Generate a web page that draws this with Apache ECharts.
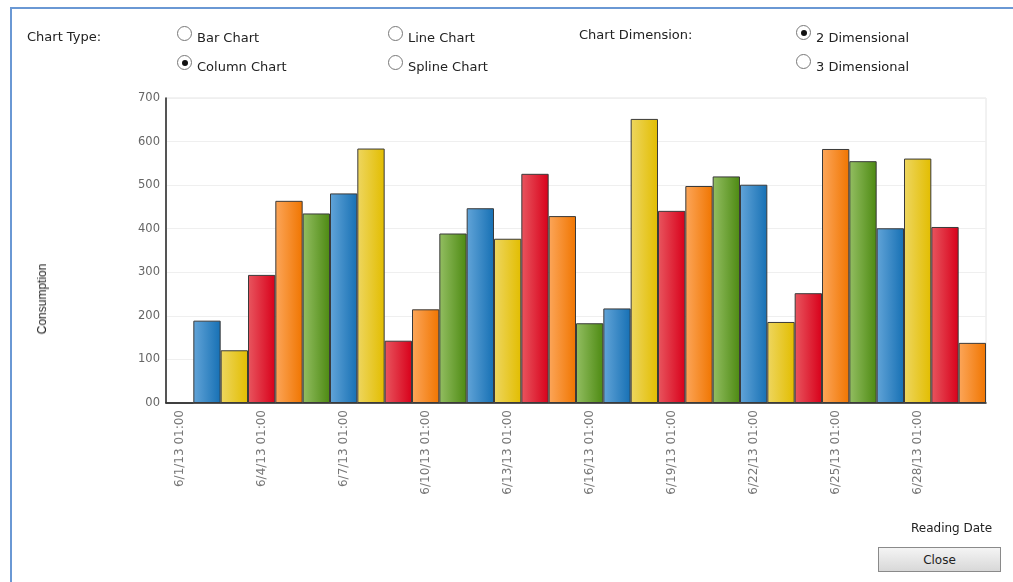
<!DOCTYPE html>
<html>
<head>
<meta charset="utf-8">
<script src="https://cdn.jsdelivr.net/npm/echarts@6/dist/echarts.min.js"></script>
<style>
  html, body { margin: 0; padding: 0; background: #fff; }
  #wrap { position: relative; width: 1013px; height: 582px; overflow: hidden; font-family: "DejaVu Sans", Verdana, sans-serif; }
  #main { position: absolute; left: 0; top: 0; width: 1013px; height: 582px; }
  .frameTop { position: absolute; left: 10px; top: 7px; width: 1003px; height: 2px; background: #6a98d4; }
  .frameLeft { position: absolute; left: 10px; top: 7px; width: 2px; height: 575px; background: #6a98d4; }
  .lbl { position: absolute; font-size: 13px; color: #222; white-space: nowrap; line-height: 15px; }
  .radio { position: absolute; width: 13px; height: 13px; border: 1px solid #777; border-radius: 50%; background: #fff; }
  .radio.on::after { content: ""; position: absolute; left: 3.5px; top: 3.5px; width: 6px; height: 6px; border-radius: 50%; background: #111; }
  #yName { position: absolute; left: 42px; top: 299px; font-family: "Liberation Sans", Arial, sans-serif; font-size: 12px; color: #222; white-space: nowrap; transform: translate(-50%, -50%) rotate(-90deg); }
  #closeBtn { position: absolute; left: 878px; top: 547px; width: 123px; height: 25px; border: 1px solid #8a8a8a; background: linear-gradient(#f4f4f4, #d8d8d8); font-size: 12px; color: #222; text-align: center; line-height: 24px; box-sizing: border-box; }
</style>
</head>
<body>
<div id="wrap">
  <div id="main"></div>
  <div class="frameTop"></div>
  <div class="frameLeft"></div>

  <div class="lbl" style="left:27px;top:29px;">Chart Type:</div>
  <div class="radio" style="left:177px;top:26px;"></div>
  <div class="lbl" style="left:197px;top:30px;">Bar Chart</div>
  <div class="radio on" style="left:177px;top:55px;"></div>
  <div class="lbl" style="left:197px;top:59px;">Column Chart</div>
  <div class="radio" style="left:388px;top:26px;"></div>
  <div class="lbl" style="left:408px;top:30px;">Line Chart</div>
  <div class="radio" style="left:388px;top:55px;"></div>
  <div class="lbl" style="left:408px;top:59px;">Spline Chart</div>

  <div class="lbl" style="left:579px;top:27px;">Chart Dimension:</div>
  <div class="radio on" style="left:796px;top:25px;"></div>
  <div class="lbl" style="left:816px;top:30px;">2 Dimensional</div>
  <div class="radio" style="left:796px;top:54px;"></div>
  <div class="lbl" style="left:816px;top:59px;">3 Dimensional</div>

  <div id="yName">Consumption</div>
  <div class="lbl" style="left:911px;top:521px;font-size:12px;">Reading Date</div>
  <div id="closeBtn">Close</div>
</div>
<script>
  // dates 6/1/13 .. 6/30/13, one reading per day
  var dates = [];
  for (var d = 1; d <= 30; d++) {
    dates.push('6/' + d + '/13 01:00');
  }

  // consumption per day
  var consumption = [0, 189, 121, 294, 464, 435, 481, 584, 143, 215,
                     389, 447, 377, 526, 429, 183, 217, 652, 441, 498,
                     520, 501, 186, 252, 583, 555, 401, 561, 404, 138];

  var yTicks = [0, 100, 200, 300, 400, 500, 600, 700];

  // palette cycles green, blue, yellow, red, orange (light -> dark)
  var palette = [
    ['#93be62', '#4d8a12'],
    ['#62a4d8', '#1670b4'],
    ['#eed660', '#e2bd00'],
    ['#e8565f', '#d8001a'],
    ['#fca65a', '#f07500']
  ];

  var chart = echarts.init(document.getElementById('main'));

  var barData = consumption.map(function (v, i) {
    var c = palette[i % palette.length];
    return {
      value: v,
      itemStyle: {
        color: new echarts.graphic.LinearGradient(0, 0, 1, 0, [
          { offset: 0, color: c[0] },
          { offset: 1, color: c[1] }
        ])
      }
    };
  });

  var option = {
    animation: false,
    grid: {
      left: 166,
      right: 27,
      top: 98,
      bottom: 179,
      show: true,
      borderColor: '#e4e4e4',
      borderWidth: 1
    },
    xAxis: {
      type: 'category',
      data: dates,
      axisLine: { lineStyle: { color: '#222', width: 1.5 } },
      axisTick: { show: false },
      axisLabel: {
        interval: 2,
        rotate: 90,
        margin: 7,
        color: '#777',
        fontSize: 12,
        fontFamily: 'DejaVu Sans'
      }
    },
    yAxis: {
      type: 'value',
      min: yTicks[0],
      max: yTicks[yTicks.length - 1],
      interval: 100,
      axisLine: { show: true, lineStyle: { color: '#222', width: 1.5 } },
      axisTick: { show: false },
      axisLabel: {
        margin: 6,
        color: '#666',
        fontSize: 11.5,
        fontFamily: 'DejaVu Sans',
        formatter: function (v) { return v === 0 ? '00' : String(v); }
      },
      splitLine: { lineStyle: { color: '#efefef' } }
    },
    series: [{
      type: 'bar',
      data: barData,
      barCategoryGap: '0%',
      itemStyle: { borderColor: '#3a3a3a', borderWidth: 1 }
    }]
  };

  chart.setOption(option);
</script>
</body>
</html>
